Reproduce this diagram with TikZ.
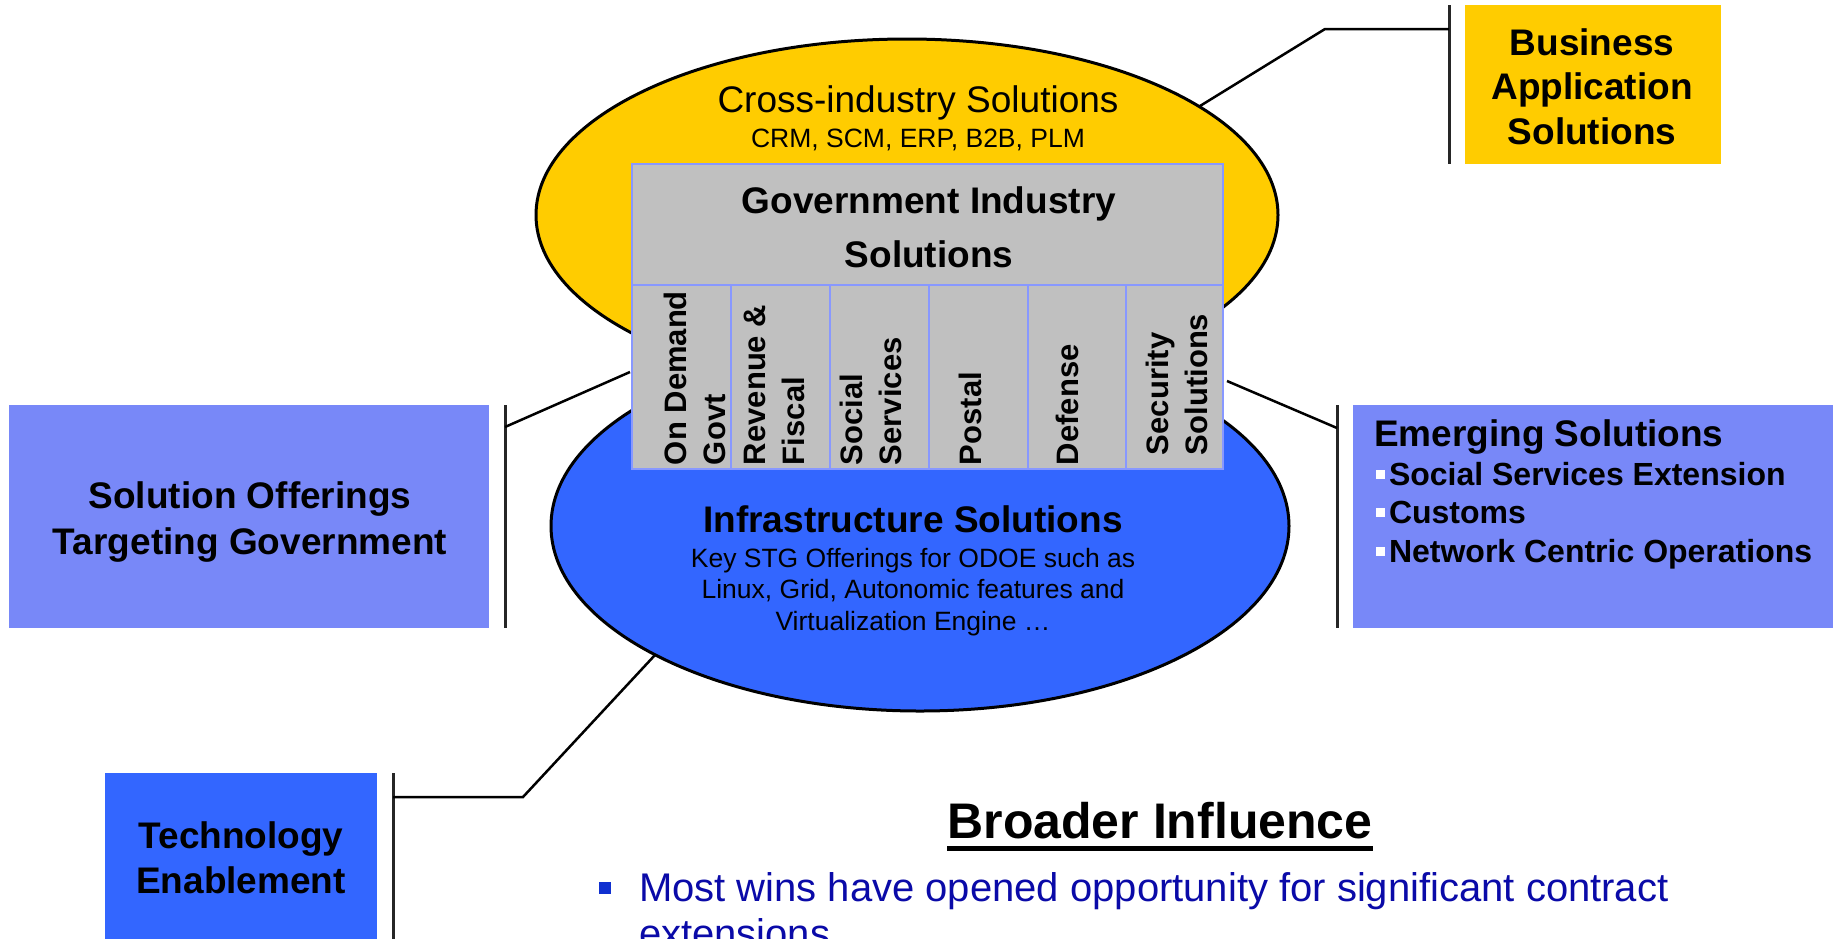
\documentclass[tikz,border=0pt]{standalone}
\usepackage{fontspec}
\setmainfont{Liberation Sans}
\usetikzlibrary{shapes.geometric}
\definecolor{gold}{HTML}{FFCC00}
\definecolor{royal}{HTML}{3366FF}
\definecolor{peri}{HTML}{7888F8}
\definecolor{panel}{HTML}{C0C0C0}
\definecolor{rim}{HTML}{8898FF}
\definecolor{navy}{HTML}{0A0AA8}
\definecolor{bulletblue}{HTML}{1030D0}
\newcommand\myfs[2]{\fontsize{#1}{#2}\selectfont}
\begin{document}
\begin{tikzpicture}[x=1pt,y=-1pt,
  every node/.style={inner sep=0pt, outer sep=0pt},
  oval/.style={ellipse, draw=black, line width=3pt},
  panelbox/.style={rectangle, fill=peri},
  conn/.style={line width=2.5pt, draw=black},
  bar/.style={line width=3pt, draw=black!85},
  boldlbl/.style={font=\myfs{37}{44.5}\bfseries, align=center},
  cell/.style={rectangle, draw=rim, line width=2pt, fill=panel},
  coltext/.style={rotate=90, anchor=west, align=left, font=\myfs{31}{39}\bfseries},
  small/.style={font=\myfs{26.5}{31.5}, anchor=base},
  emgitem/.style={font=\myfs{32}{38}\bfseries, anchor=base west},
]
\useasboundingbox (0,0) rectangle (1839,938);
\fill[white] (0,0) rectangle (1839,938);

% ellipses
\node[oval, fill=gold, minimum width=742pt, minimum height=352pt] (yel) at (907,215) {};
\node[oval, fill=royal, minimum width=738pt, minimum height=370pt] (blu) at (920,526) {};

% side boxes
\node[rectangle, fill=gold, minimum width=256pt, minimum height=159pt] (bus) at (1593,84.5) {};
\node[panelbox, minimum width=480pt, minimum height=223pt] (sol) at (249,516.5) {};
\node[panelbox, minimum width=480pt, minimum height=223pt] (emg) at (1593,516.5) {};
\node[rectangle, fill=royal, minimum width=272pt, minimum height=177pt] (tech) at (241,861.5) {};

% bars beside the boxes
\draw[bar] ([xshift=-16pt]bus.north west) -- ([xshift=-16pt]bus.south west);
\draw[bar] ([xshift=16pt]sol.north east) -- ([xshift=16pt]sol.south east);
\draw[bar] ([xshift=-16pt]emg.north west) -- ([xshift=-16pt]emg.south west);
\draw[bar] ([xshift=16pt]tech.north east) -- ([xshift=16pt]tech.south east);

% connectors
\coordinate (busA) at (1200,106);
\coordinate (busB) at (1325,29);
\coordinate (busC) at (1449,29);
\draw[conn] (busA) -- (busB) -- (busC);
\coordinate (solA) at (505,427);
\coordinate (solB) at (630,372);
\draw[conn] (solA) -- (solB);
\coordinate (emgA) at (1337,428);
\coordinate (emgB) at (1227,381);
\draw[conn] (emgA) -- (emgB);
\coordinate (techA) at (393,797);
\coordinate (techB) at (523,797);
\coordinate (techC) at (655,655);
\draw[conn] (techA) -- (techB) -- (techC);

% government panel
\node[cell, minimum width=591pt, minimum height=121pt] (gov) at (927.5,224.5) {};
\node[cell, minimum width=99pt, minimum height=184pt] (c1) at (681.5,377) {};
\node[cell, minimum width=99pt, minimum height=184pt] (c2) at (780.5,377) {};
\node[cell, minimum width=99pt, minimum height=184pt] (c3) at (879.5,377) {};
\node[cell, minimum width=99pt, minimum height=184pt] (c4) at (978.5,377) {};
\node[cell, minimum width=98pt, minimum height=184pt] (c5) at (1077,377) {};
\node[cell, minimum width=97pt, minimum height=184pt] (c6) at (1174.5,377) {};

\node[boldlbl, font=\myfs{37}{54}\bfseries] (govtxt) at (929,227.5) {Government Industry\\Solutions};
\node[coltext] (t1) at (695,465) {On Demand\\Govt};
\node[coltext] (t2) at (774,465) {Revenue \&\\Fiscal};
\node[coltext] (t3) at (871,465) {Social\\Services};
\node[coltext] (t4) at (970,465) {Postal};
\node[coltext] (t5) at (1067,465) {Defense};
\node[coltext] (t6) at (1176.5,455) {Security\\Solutions};

% ellipse texts
\node[font=\myfs{37}{44}, anchor=base] (cross) at (918,112) {Cross-industry Solutions};
\node[small] (crm) at (918,147) {CRM, SCM, ERP, B2B, PLM};
\node[font=\myfs{37}{44}\bfseries, anchor=base] (infra) at (913,532) {Infrastructure Solutions};
\node[small] (key) at (913,567) {Key STG Offerings for ODOE such as};
\node[small] (linux) at (913,598.5) {Linux, Grid, Autonomic features and};
\node[small] (virt) at (913,630) {Virtualization Engine …};

% box texts
\node[boldlbl] (bustxt) at (1592,86.5) {Business\\Application\\Solutions};
\node[boldlbl, font=\myfs{37}{46}\bfseries] (soltxt) at (250,522.5) {Solution Offerings\\Targeting Government};
\node[boldlbl, font=\myfs{37}{45}\bfseries] (techtxt) at (241,858) {Technology\\Enablement};

\node[font=\myfs{37}{44}\bfseries, anchor=base west] (emgh) at (1374,446) {Emerging Solutions};
\node[emgitem] (emg1) at (1389,485) {Social Services Extension};
\node[emgitem] (emg2) at (1389,523) {Customs};
\node[emgitem] (emg3) at (1389,562) {Network Centric Operations};
\fill[white] (1376,470) rectangle (1385,478.5);
\fill[white] (1376,508) rectangle (1385,516.5);
\fill[white] (1376,547) rectangle (1385,555.5);

% broader influence
\node[font=\myfs{50}{60}\bfseries, anchor=base] (broad) at (1160,838) {Broader Influence};
\draw[line width=5pt] ([yshift=-10.5pt]broad.base west) -- ([yshift=-10.5pt]broad.base east);
\node[font=\myfs{40}{47}, text=navy, anchor=base west] (most) at (639,901) {Most wins have opened opportunity for significant contract};
\node[font=\myfs{40}{47}, text=navy, anchor=base west] (ext) at (639,947) {extensions};
\fill[bulletblue] (599,882) rectangle (611,894);
\end{tikzpicture}
\end{document}
